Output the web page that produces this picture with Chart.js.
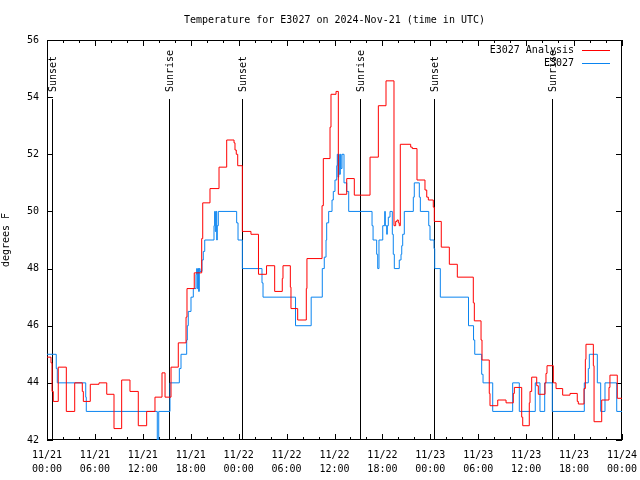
<!DOCTYPE html>
<html>
<head>
<meta charset="utf-8">
<script src="https://cdn.jsdelivr.net/npm/chart.js@4"></script>
<style>
  html, body { margin: 0; padding: 0; background: #fff; }
  #wrap { width: 640px; height: 480px; }
</style>
</head>
<body>
<div id="wrap"><canvas id="grafico" width="640" height="480"></canvas></div>
<script>
// hours since 11/21 00:00 UTC where the value changes (step plot)
const analysisHours = [0, 0.50, 0.63, 0.79, 1.41, 2.42, 3.47, 4.42, 4.55, 5.42, 6.51, 7.48, 8.39, 9.35, 10.39, 11.43, 12.48, 13.52, 14.40, 14.78,
  15.53, 16.44, 17.41, 17.53, 18.44, 19.37, 19.50, 20.41, 21.54, 22.50, 23.42, 23.54, 23.70, 23.88, 24.46, 25.54, 26.48, 27.49, 28.51, 29.46,
  29.55, 30.47, 30.55, 31.39, 32.47, 32.55, 34.44, 34.60, 35.44, 35.56, 36.19, 36.48, 37.53, 38.48, 40.45, 41.49, 42.45, 43.45, 43.66, 43.83,
  43.99, 44.11, 44.24, 45.54, 45.74, 46.33, 47.33, 47.55, 47.75, 48.37, 48.50, 49.37, 50.38, 51.38, 53.38, 53.51, 54.35, 54.47, 55.38, 55.47,
  56.44, 57.48, 58.39, 58.52, 59.44, 59.57, 60.39, 60.48, 60.69, 61.32, 61.52, 62.36, 62.48, 62.61, 63.40, 63.74, 64.57, 65.49, 66.40, 66.53,
  67.24, 67.41, 67.49, 68.41, 68.50, 69.46, 70.37, 70.49, 71.41, 72];
const analysisTemps = [44.9, 44.7, 43.7, 43.35, 44.55, 43.0, 44.0, 43.7, 43.35, 43.95, 44.0, 43.6, 42.4, 44.1, 43.7, 42.5, 43.0, 43.5, 44.35, 43.5,
  44.55, 45.4, 46.3, 47.3, 47.85, 49.05, 50.3, 50.8, 51.55, 52.5, 52.4, 52.15, 52.0, 51.6, 49.3, 49.2, 47.8, 48.1, 47.2, 47.65,
  48.1, 47.35, 46.6, 46.2, 47.3, 48.35, 50.2, 51.85, 52.95, 54.1, 54.2, 50.6, 51.15, 50.57, 51.9, 53.7, 54.57, 49.5, 49.65, 49.7,
  49.6, 49.5, 52.35, 52.25, 52.2, 51.1, 50.75, 50.5, 50.4, 50.15, 49.65, 48.75, 48.15, 47.7, 46.8, 46.17, 45.5, 44.8, 43.63, 43.2,
  43.4, 43.3, 43.63, 43.84, 42.8, 42.5, 43.3, 43.7, 44.2, 43.9, 43.6, 44.0, 44.33, 44.6, 44.0, 43.8, 43.57, 43.63, 43.35, 43.26,
  43.8, 44.82, 45.35, 44.6, 42.64, 43.4, 43.84, 44.27, 43.46, 43.46];

const obsHours = [0, 1.16, 1.29, 4.85, 4.92, 13.81, 13.99, 15.40, 16.57, 16.78, 17.49, 17.57, 17.69, 18.03, 18.32, 18.66, 18.74, 18.82, 18.91, 18.99,
  19.07, 19.16, 19.41, 19.57, 19.75, 20.91, 20.99, 21.07, 21.16, 21.25, 21.32, 21.45, 23.75, 23.92, 24.46, 26.92, 27.05, 31.12, 33.08, 34.47,
  34.72, 34.94, 35.02, 35.27, 35.69, 35.85, 36.06, 36.28, 36.35, 36.44, 36.53, 36.60, 36.73, 36.81, 36.94, 37.19, 37.53, 37.78, 40.70, 40.83,
  41.28, 41.41, 41.57, 42.04, 42.29, 42.36, 42.54, 42.61, 42.74, 42.95, 43.24, 43.36, 43.49, 44.11, 44.33, 44.42, 44.54, 44.74, 45.87, 45.99,
  46.62, 46.75, 47.80, 47.96, 48.46, 48.55, 49.25, 52.78, 53.41, 53.56, 54.43, 54.60, 55.81, 58.31, 59.14, 61.14, 61.73, 62.32, 63.27, 67.28,
  67.78, 67.91, 68.91, 69.33, 69.87, 71.34, 72];
const obsTemps = [45, 44.5, 44, 43.5, 43, 42, 43, 44, 44.5, 45, 45.5, 46, 46.5, 47, 47.3, 47.8, 48, 47.3, 48, 47.2,
  48, 47.9, 48.3, 48.6, 49, 49.5, 50, 49.3, 50, 49, 49.5, 50, 49.6, 49, 48, 47.5, 47, 46, 47, 48,
  48.4, 49, 49.6, 50, 50.4, 50.7, 51.1, 51.6, 52, 51.2, 52, 51.3, 52, 51.5, 52, 51, 50.7, 50, 49.5, 49,
  48.5, 48, 49, 49.5, 50, 49.5, 49.2, 49.5, 49.8, 50, 49.2, 48.5, 48, 48.3, 48.5, 48.8, 49.2, 50, 50.5, 51,
  50.5, 50, 49.5, 49, 48.7, 48, 47, 46, 45.5, 45, 44.3, 44, 43, 44, 43, 44, 43, 44, 43, 44,
  44.5, 45, 44, 43, 44, 43, 43];

const sunHours = [0.59, 15.32, 24.46, 39.23, 48.46, 63.27];
const sunLabels = ['Sunset', 'Sunrise', 'Sunset', 'Sunrise', 'Sunset', 'Sunrise'];

const xTickHours = [0, 6, 12, 18, 24, 30, 36, 42, 48, 54, 60, 66, 72];
const xTickLabels = [['11/21', '00:00'], ['11/21', '06:00'], ['11/21', '12:00'], ['11/21', '18:00'], ['11/22', '00:00'], ['11/22', '06:00'],
  ['11/22', '12:00'], ['11/22', '18:00'], ['11/23', '00:00'], ['11/23', '06:00'], ['11/23', '12:00'], ['11/23', '18:00'], ['11/24', '00:00']];
const yTicks = [42, 44, 46, 48, 50, 52, 54, 56];

const FONTE = "'DejaVu Sans Mono', monospace";

// moldura, marcas internas, linhas do sol e legenda no estilo gnuplot
const estiloGnuplot = {
  id: 'estiloGnuplot',
  beforeDatasetsDraw(chart) {
    const { ctx, chartArea: a, scales: { x, y } } = chart;
    ctx.save();
    ctx.strokeStyle = '#000';
    ctx.lineWidth = 1;
    ctx.fillStyle = '#000';
    ctx.font = '10px ' + FONTE;

    sunHours.forEach((h, i) => {
      const px = Math.round(x.getPixelForValue(h)) + 0.5;
      ctx.beginPath();
      ctx.moveTo(px, a.top + 59);
      ctx.lineTo(px, a.bottom);
      ctx.stroke();
      ctx.save();
      ctx.translate(px + 1, a.top + 52);
      ctx.rotate(-Math.PI / 2);
      ctx.textAlign = 'left';
      ctx.textBaseline = 'middle';
      ctx.fillText(sunLabels[i], 0, 0);
      ctx.restore();
    });

    ctx.beginPath();
    for (let h = 0; h <= 72; h += 2) {
      const px = Math.round(x.getPixelForValue(h)) + 0.5;
      const len = h % 6 === 0 ? 6 : 3;
      ctx.moveTo(px, a.bottom);
      ctx.lineTo(px, a.bottom - len);
      ctx.moveTo(px, a.top);
      ctx.lineTo(px, a.top + len);
    }
    yTicks.forEach(v => {
      const py = Math.round(y.getPixelForValue(v)) + 0.5;
      ctx.moveTo(a.left, py);
      ctx.lineTo(a.left + 6, py);
      ctx.moveTo(a.right, py);
      ctx.lineTo(a.right - 6, py);
    });
    ctx.stroke();
    ctx.strokeRect(a.left + 0.5, a.top + 0.5, a.right - a.left - 1, a.bottom - a.top - 1);
    ctx.restore();
  },
  afterDatasetsDraw(chart) {
    const { ctx, chartArea: a } = chart;
    ctx.save();
    ctx.font = '10px ' + FONTE;
    ctx.textAlign = 'right';
    ctx.textBaseline = 'middle';
    chart.data.datasets.forEach((ds, i) => {
      const ly = a.top + 10 + i * 13;
      ctx.fillStyle = '#000';
      ctx.fillText(ds.label, a.right - 48, ly);
      ctx.strokeStyle = ds.borderColor;
      ctx.lineWidth = 1;
      ctx.beginPath();
      ctx.moveTo(a.right - 40, ly + 0.5);
      ctx.lineTo(a.right - 12, ly + 0.5);
      ctx.stroke();
    });
    ctx.restore();
  }
};

new Chart(document.getElementById('grafico'), {
  type: 'line',
  data: {
    datasets: [
      {
        label: 'E3027 Analysis',
        data: analysisHours.map((h, i) => ({ x: h, y: analysisTemps[i] })),
        borderColor: '#ff0000',
        borderWidth: 1,
        stepped: true,
        pointRadius: 0,
        fill: false,
      },
      {
        label: 'E3027',
        data: obsHours.map((h, i) => ({ x: h, y: obsTemps[i] })),
        borderColor: '#0a84f0',
        borderWidth: 1,
        stepped: true,
        pointRadius: 0,
        fill: false,
      }
    ]
  },
  options: {
    responsive: false,
    animation: false,
    devicePixelRatio: 1,
    layout: { padding: { left: 0, right: 18, top: 0, bottom: 0 } },
    plugins: {
      legend: { display: false },
      tooltip: { enabled: false },
      title: {
        display: true,
        fullSize: false,
        text: 'Temperature for E3027 on 2024-Nov-21 (time in UTC)',
        color: '#000',
        font: { family: FONTE, size: 10, weight: 'normal', lineHeight: 1.2 },
        padding: { top: 14, bottom: 14 },
      },
    },
    scales: {
      x: {
        type: 'linear',
        min: 0,
        max: 72,
        grid: { display: false, drawTicks: false },
        border: { display: false },
        afterBuildTicks: s => { s.ticks = xTickHours.map(v => ({ value: v })); },
        afterFit: s => { s.height = 40; s.paddingLeft = 0; s.paddingRight = 18; },
        ticks: {
          autoSkip: false,
          maxRotation: 0,
          padding: 8,
          color: '#000',
          font: { family: FONTE, size: 10, lineHeight: 1.4 },
          callback: (v, i) => xTickLabels[i],
        },
      },
      y: {
        min: 42,
        max: 56,
        grid: { display: false, drawTicks: false },
        border: { display: false },
        afterBuildTicks: s => { s.ticks = yTicks.map(v => ({ value: v })); },
        afterFit: s => { s.width = 47; },
        title: {
          display: true,
          text: 'degrees F',
          color: '#000',
          font: { family: FONTE, size: 10 },
          padding: { top: 0, bottom: 0 },
        },
        ticks: {
          padding: 8,
          color: '#000',
          font: { family: FONTE, size: 10 },
        },
      },
    },
  },
  plugins: [estiloGnuplot],
});
</script>
</body>
</html>
